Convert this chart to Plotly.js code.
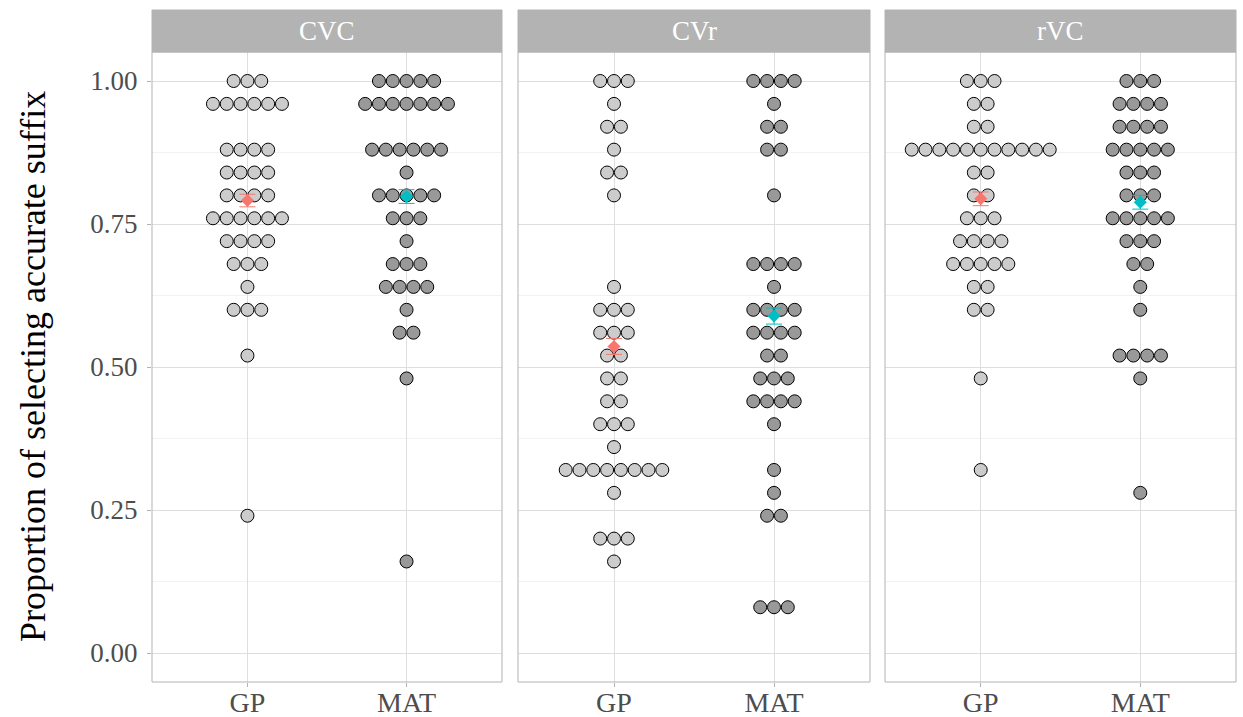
<!DOCTYPE html>
<html><head><meta charset="utf-8">
<script src="https://cdn.plot.ly/plotly-3.0.1.min.js"></script>
<style>html,body{margin:0;padding:0;background:#fff}#chart{width:1243px;height:717px}</style>
</head><body><div id="chart"></div>
<script>
// ---------------- data ----------------
const conditions = ["CVC", "CVr", "rVC"];
const groups = ["GP", "MAT"];
const yTickVals = [0, 0.25, 0.5, 0.75, 1];
const yTickText = ["0.00", "0.25", "0.50", "0.75", "1.00"];

// proportion levels and number of participants (dots) at each level
const cvcGPLevels  = [1.00, 0.96, 0.88, 0.84, 0.80, 0.76, 0.72, 0.68, 0.64, 0.60, 0.52, 0.24];
const cvcGPCounts  = [3, 6, 4, 4, 4, 6, 4, 3, 1, 3, 1, 1];
const cvcMATLevels = [1.00, 0.96, 0.88, 0.84, 0.80, 0.76, 0.72, 0.68, 0.64, 0.60, 0.56, 0.48, 0.16];
const cvcMATCounts = [5, 7, 6, 1, 5, 3, 1, 3, 4, 1, 2, 1, 1];

const cvrGPLevels  = [1.00, 0.96, 0.92, 0.88, 0.84, 0.80, 0.64, 0.60, 0.56, 0.52, 0.48, 0.44, 0.40, 0.36, 0.32, 0.28, 0.20, 0.16];
const cvrGPCounts  = [3, 1, 2, 1, 2, 1, 1, 3, 3, 2, 2, 2, 3, 1, 8, 1, 3, 1];
const cvrMATLevels = [1.00, 0.96, 0.92, 0.88, 0.80, 0.68, 0.64, 0.60, 0.56, 0.52, 0.48, 0.44, 0.40, 0.32, 0.28, 0.24, 0.08];
const cvrMATCounts = [4, 1, 2, 2, 1, 4, 1, 4, 4, 2, 3, 4, 1, 1, 1, 2, 3];

const rvcGPLevels  = [1.00, 0.96, 0.92, 0.88, 0.84, 0.80, 0.76, 0.72, 0.68, 0.64, 0.60, 0.48, 0.32];
const rvcGPCounts  = [3, 2, 2, 11, 2, 2, 3, 4, 5, 2, 2, 1, 1];
const rvcMATLevels = [1.00, 0.96, 0.92, 0.88, 0.84, 0.80, 0.76, 0.72, 0.68, 0.64, 0.60, 0.52, 0.48, 0.28];
const rvcMATCounts = [3, 4, 4, 5, 3, 3, 5, 3, 2, 1, 1, 4, 1, 1];

// group means and standard errors (per condition)
const meanGP  = [0.791, 0.536, 0.794];
const meanMAT = [0.798, 0.589, 0.788];
const seGP    = [0.011, 0.014, 0.012];
const seMAT   = [0.012, 0.014, 0.012];

// ---------------- layout helpers ----------------
const W = 1243, H = 717;
const panelPx = [[152, 502], [518, 870], [885, 1236]];
const plotTopPx = 52, plotBottomPx = 682, stripTopPx = 10;
const xRange = [0.4, 2.6];
const yRange = [-0.0507, 1.0507];
const dotSpacingPx = 13.8;

const FONT = "Liberation Serif, Times New Roman, serif";
const dotFill = ["#cccccc", "#999999"];
const meanColor = ["#F8766D", "#00BFC4"];

const panelLevels = [[cvcGPLevels, cvcMATLevels], [cvrGPLevels, cvrMATLevels], [rvcGPLevels, rvcMATLevels]];
const panelCounts = [[cvcGPCounts, cvcMATCounts], [cvrGPCounts, cvrMATCounts], [rvcGPCounts, rvcMATCounts]];
const means = [meanGP, meanMAT];
const ses = [seGP, seMAT];

const traces = [];
const layout = {
  width: W, height: H,
  margin: {l: 0, r: 0, t: 0, b: 0},
  paper_bgcolor: "#ffffff", plot_bgcolor: "#ffffff",
  showlegend: false,
  font: {family: FONT, color: "#4d4d4d"},
  shapes: [], annotations: []
};

const yDom = [(H - plotBottomPx) / H, (H - plotTopPx) / H];

conditions.forEach((cond, p) => {
  const idx = p === 0 ? "" : String(p + 1);
  const xa = "x" + idx, ya = "y" + idx;
  const [x0, x1] = panelPx[p];
  const unitsPerPx = (xRange[1] - xRange[0]) / (x1 - x0);
  const step = dotSpacingPx * unitsPerPx;

  groups.forEach((g, gi) => {
    const xs = [], ys = [];
    const lv = panelLevels[p][gi], ct = panelCounts[p][gi];
    lv.forEach((v, k) => {
      const n = ct[k];
      for (let j = 0; j < n; j++) {
        xs.push(gi + 1 + (j - (n - 1) / 2) * step);
        ys.push(v);
      }
    });
    traces.push({
      type: "scatter", mode: "markers", x: xs, y: ys, xaxis: xa, yaxis: ya,
      marker: {size: 13, color: dotFill[gi], line: {color: "#000000", width: 1}},
      hoverinfo: "y"
    });
  });
  groups.forEach((g, gi) => {
    traces.push({
      type: "scatter", mode: "markers", x: [gi + 1], y: [means[gi][p]], xaxis: xa, yaxis: ya,
      marker: {symbol: "diamond", size: 10, color: meanColor[gi], line: {width: 0}},
      error_y: {type: "data", array: [ses[gi][p]], visible: true, color: meanColor[gi], thickness: 1, width: 8}
    });
  });

  layout["xaxis" + idx] = {
    domain: [x0 / W, x1 / W], anchor: ya, range: xRange,
    tickvals: [1, 2], ticktext: groups,
    showgrid: true, gridcolor: "#dedede", gridwidth: 1,
    zeroline: false, showline: false,
    ticks: "outside", ticklen: 4, tickcolor: "#b3b3b3",
    tickfont: {family: FONT, size: 28, color: "#4d4d4d"},
    ticklabelstandoff: -9,
    fixedrange: true
  };
  layout["yaxis" + idx] = {
    domain: yDom, anchor: xa, range: yRange,
    tickvals: yTickVals, ticktext: yTickText,
    showticklabels: p === 0,
    ticks: p === 0 ? "outside" : "", ticklen: 4, tickcolor: "#b3b3b3",
    showgrid: true, gridcolor: "#dedede", gridwidth: 1,
    minor: {dtick: 0.125, tick0: 0, showgrid: true, gridcolor: "#ececec", gridwidth: 0.7},
    zeroline: false, showline: false,
    tickfont: {family: FONT, size: 27, color: "#4d4d4d"},
    ticklabelstandoff: 4,
    fixedrange: true
  };
  if (p > 0) layout["yaxis" + idx].matches = "y";

  // panel border
  layout.shapes.push({type: "rect", xref: "paper", yref: "paper",
    x0: x0 / W, x1: x1 / W, y0: yDom[0], y1: yDom[1],
    line: {color: "#b3b3b3", width: 1}, fillcolor: "rgba(0,0,0,0)", layer: "above"});
  // strip
  layout.shapes.push({type: "rect", xref: "paper", yref: "paper",
    x0: x0 / W, x1: x1 / W, y0: (H - plotTopPx) / H, y1: (H - stripTopPx) / H,
    line: {color: "#b3b3b3", width: 1}, fillcolor: "#b3b3b3"});
  layout.annotations.push({xref: "paper", yref: "paper",
    x: (x0 + x1) / 2 / W, y: (H - (plotTopPx + stripTopPx) / 2) / H,
    text: cond, showarrow: false, xanchor: "center", yanchor: "middle",
    font: {family: FONT, size: 27, color: "#ffffff"}});
});

layout.annotations.push({xref: "paper", yref: "paper",
  x: 33 / W, y: (H - (plotTopPx + plotBottomPx) / 2) / H,
  text: "Proportion of selecting accurate suffix", textangle: -90, showarrow: false,
  xanchor: "center", yanchor: "middle",
  font: {family: FONT, size: 36, color: "#000000"}});

Plotly.newPlot("chart", traces, layout, {displayModeBar: false, staticPlot: true});
</script>
</body></html>
